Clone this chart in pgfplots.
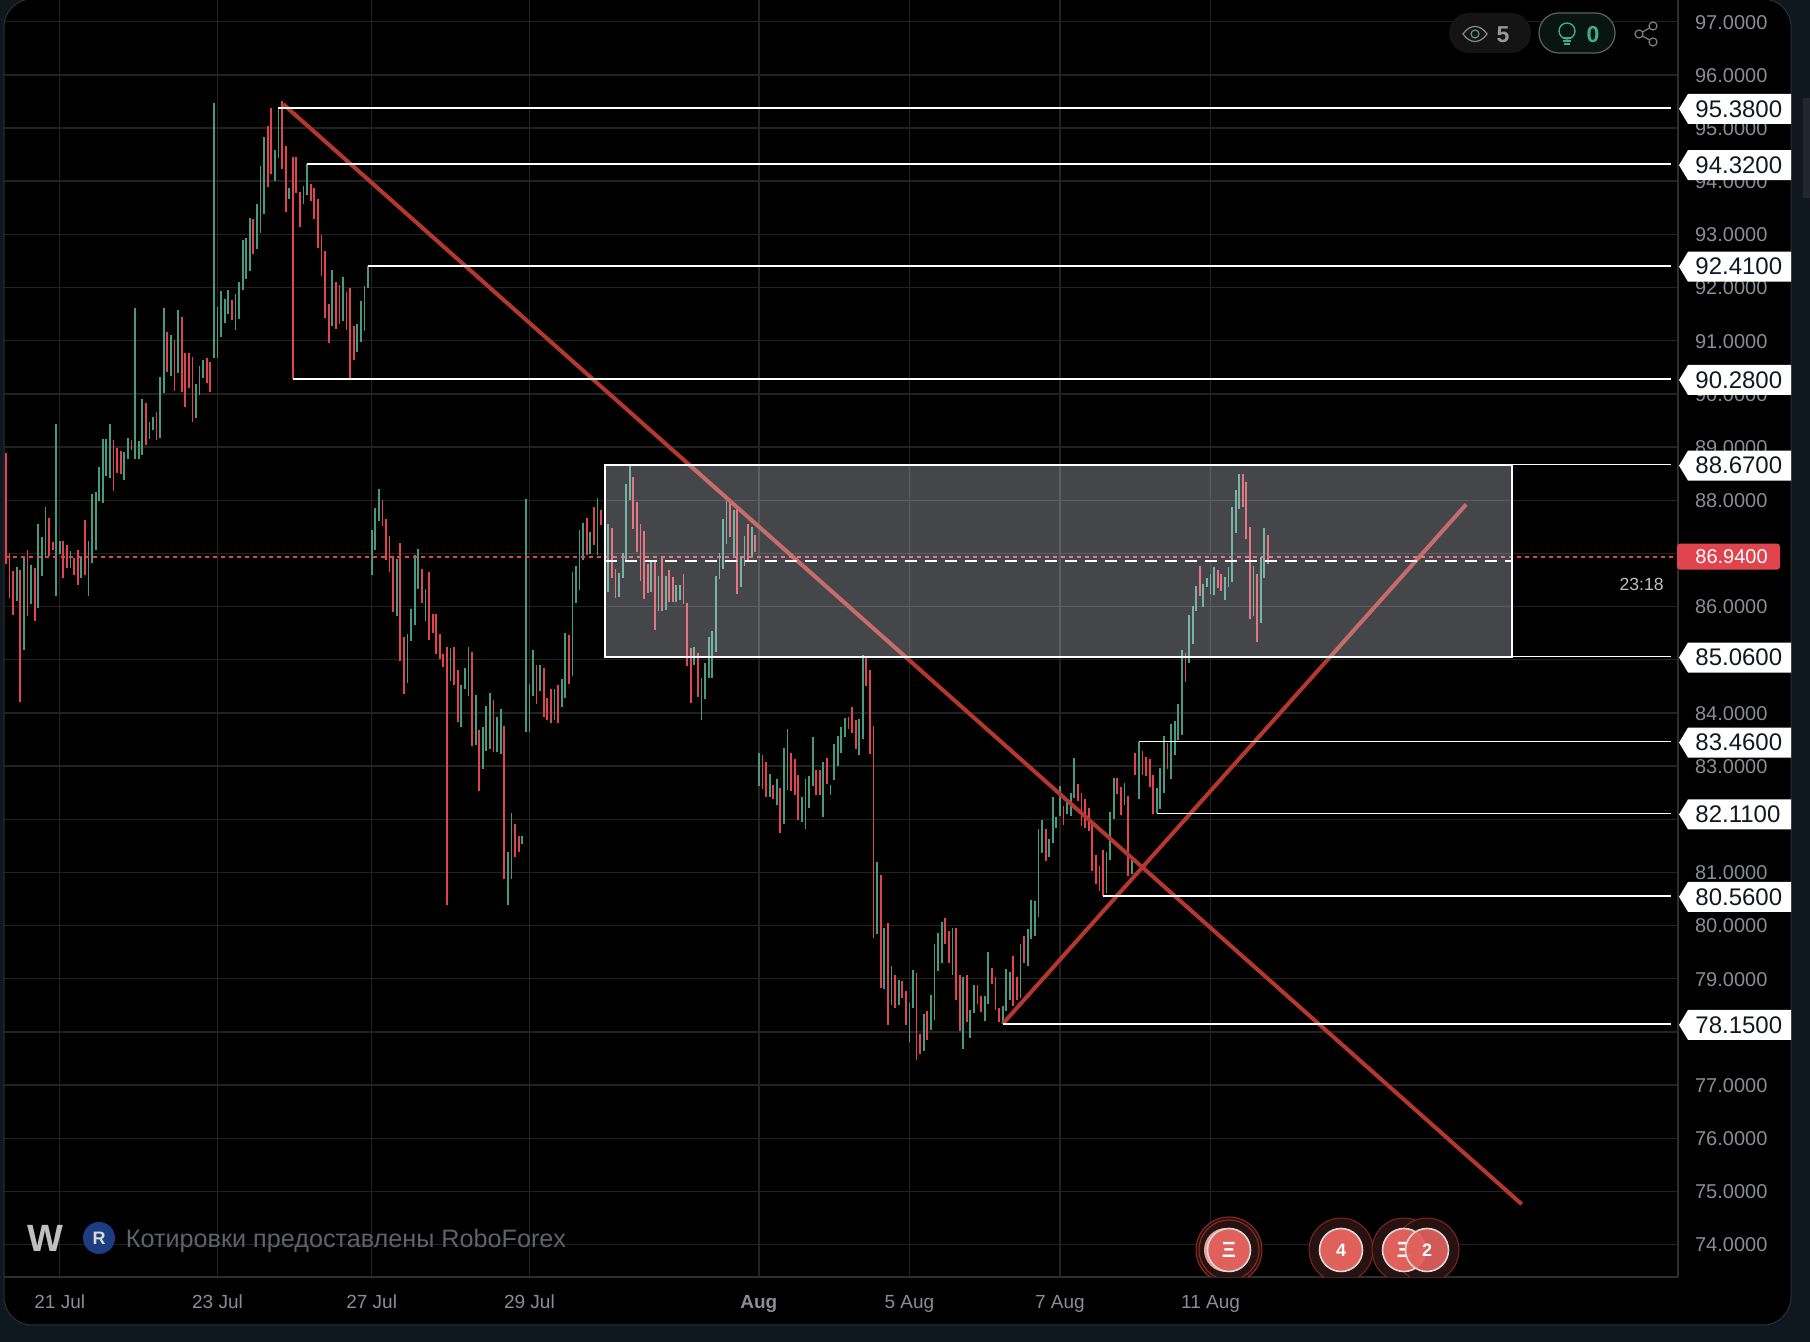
\documentclass[border=0pt]{standalone}
\usepackage{pgfplots}
\pgfplotsset{compat=1.18}
\usepackage{pgfplotstable}
\usepackage{fontspec}
\setmainfont{Liberation Sans}
\definecolor{pagebg}{HTML}{10181F}
\definecolor{framec}{HTML}{2A3138}
\definecolor{gridc}{HTML}{222222}
\definecolor{spine}{HTML}{2E2E2E}
\definecolor{upc}{HTML}{469A82}
\definecolor{downc}{HTML}{E0454F}
\definecolor{linec}{HTML}{B5372E}
\definecolor{tickc}{HTML}{8A8D92}
\definecolor{tagtext}{HTML}{131722}
\definecolor{wmark}{HTML}{5F6368}
\definecolor{bub}{HTML}{E0605C}
\definecolor{tealc}{HTML}{3FAE8E}
\definecolor{navyc}{HTML}{1C3D82}
\definecolor{zonec}{HTML}{F0F4FF}
\pgfplotstableread{
i l h
3 86.11 86.74
5 85.18 86.96
7 86.05 86.78
9 85.98 87.55
10 86.58 87.31
11 86.94 87.87
14 86.19 89.43
15 86.99 87.23
18 86.73 87.04
21 86.54 86.95
23 86.19 87.23
24 86.82 88.11
25 87.06 88.15
26 87.98 88.62
27 87.94 89.15
28 88.45 89.15
29 88.41 89.43
33 88.39 88.91
34 88.77 89.17
36 88.77 91.61
37 88.77 89.11
38 88.85 89.90
40 89.15 89.47
41 89.32 89.56
43 89.17 90.32
44 90.02 91.61
46 90.34 91.11
48 90.39 91.58
53 89.55 90.18
54 89.98 90.52
55 90.30 90.64
58 90.68 95.47
59 90.68 91.64
60 91.07 91.94
61 91.34 91.79
62 91.51 91.96
64 91.20 91.88
65 91.41 92.11
66 91.96 92.90
67 92.16 92.93
68 92.31 93.31
70 92.73 93.57
71 93.03 94.29
72 93.39 94.83
75 94.01 94.59
76 94.44 95.38
79 93.67 93.87
83 93.57 93.91
84 93.74 94.33
91 91.28 92.33
94 91.37 92.20
98 90.79 91.32
99 90.98 91.75
100 91.18 92.03
101 91.99 92.41
102 86.59 87.44
103 87.06 87.85
104 87.61 88.21
109 85.82 86.89
112 84.56 85.48
113 85.35 85.95
114 85.65 86.97
115 86.33 87.08
117 85.72 86.33
124 84.60 85.22
127 83.73 84.52
128 84.45 84.84
129 84.31 85.24
131 83.39 84.33
133 82.94 83.73
134 83.29 84.14
135 83.33 84.37
137 83.26 83.93
138 83.22 84.08
140 80.39 81.39
141 80.87 82.11
144 81.54 81.68
145 83.65 88.03
146 83.65 84.54
147 84.31 85.18
149 84.41 84.91
153 83.86 84.45
155 84.11 84.63
156 84.29 85.50
158 84.69 86.66
159 86.06 86.76
160 86.31 87.45
161 86.87 87.57
163 86.98 87.40
165 86.97 88.04
168 86.28 87.56
171 86.19 86.64
172 86.53 87.00
173 86.88 88.31
174 88.01 88.65
180 86.28 86.83
182 85.92 86.58
184 85.94 86.58
187 86.08 86.40
188 86.13 86.41
192 84.91 85.23
194 83.87 84.65
195 84.27 84.93
196 84.66 85.42
197 84.66 85.55
198 85.15 86.58
199 86.51 87.00
200 86.70 87.64
201 87.17 87.99
203 86.96 87.81
205 86.36 86.96
206 86.77 87.32
208 86.96 87.50
210 82.63 83.24
213 82.41 82.86
215 82.26 82.75
217 81.92 83.35
218 82.56 83.69
222 81.94 82.41
223 81.82 82.75
224 82.22 82.82
225 82.63 83.54
228 82.05 83.08
230 82.45 82.65
231 82.73 83.42
232 83.01 83.57
233 83.25 83.74
234 83.54 83.91
238 83.20 83.89
239 83.50 85.08
243 79.84 81.19
245 78.80 79.95
247 78.50 79.24
249 78.50 78.97
252 77.81 78.54
253 78.45 79.16
256 77.65 78.33
258 78.03 78.69
259 78.22 79.65
260 79.14 79.86
261 79.29 80.06
264 79.08 79.95
267 77.67 79.03
269 77.88 78.41
270 78.35 78.88
273 78.20 78.67
274 78.52 79.50
278 78.14 78.48
279 78.39 79.18
280 78.61 79.12
283 78.63 79.65
285 79.24 79.93
286 79.74 80.48
287 79.80 80.46
288 80.16 81.81
289 81.36 81.98
291 81.29 81.62
292 81.55 82.41
293 81.83 82.04
294 82.06 82.62
296 82.09 82.36
297 82.06 82.49
298 82.40 83.16
307 80.61 81.38
308 81.23 82.13
309 82.00 82.77
312 82.26 82.68
314 80.98 81.23
316 82.39 83.46
321 82.11 82.58
322 82.20 82.97
323 82.49 83.56
325 82.75 83.80
326 83.20 83.84
327 83.50 84.16
328 83.58 85.19
330 84.93 85.85
331 85.29 86.02
332 85.91 86.38
334 86.00 86.42
335 86.36 86.53
336 86.23 86.62
337 86.21 86.74
340 86.12 86.55
341 86.36 86.74
342 86.47 87.87
343 87.38 88.20
344 87.83 88.50
348 85.83 86.77
350 85.70 86.94
351 86.53 87.47
}\upbars
\pgfplotstableread{
i l h
0 86.80 88.88
1 86.17 87.00
2 85.84 86.67
4 84.20 86.69
6 85.83 87.06
8 85.72 86.72
12 86.95 87.66
13 87.06 87.21
16 86.54 87.23
17 86.73 87.16
19 86.59 86.91
20 86.41 87.06
22 86.59 87.63
30 88.17 89.13
31 88.51 88.98
32 88.49 88.92
35 88.94 89.13
39 89.04 89.83
42 89.13 89.66
45 90.41 91.16
47 90.05 91.01
49 90.03 91.45
50 89.75 90.77
51 90.11 90.77
52 89.47 90.69
56 90.20 90.67
57 90.03 90.60
63 91.39 91.77
69 92.63 93.29
73 93.89 95.04
74 94.14 95.38
77 94.23 95.50
78 93.42 94.66
80 90.28 94.46
81 93.78 94.46
82 93.14 93.80
85 93.63 93.95
86 93.29 93.87
87 92.75 93.67
88 92.22 92.99
89 91.43 92.69
90 90.96 91.69
92 91.22 92.11
93 91.32 92.05
95 91.20 91.92
96 90.28 91.99
97 90.64 91.28
105 87.51 88.00
106 86.87 87.64
107 86.66 87.32
108 85.89 86.95
110 84.97 87.19
111 84.35 85.42
116 86.06 86.70
118 85.37 86.65
119 85.50 85.86
120 85.10 85.87
121 85.01 85.48
122 84.86 85.10
123 80.39 85.24
125 84.52 85.24
126 83.82 84.80
130 83.37 85.14
132 82.54 83.67
136 83.26 84.25
139 80.87 83.76
142 81.30 81.92
143 81.39 81.68
148 84.16 84.90
150 83.92 84.84
151 83.86 84.29
152 83.82 84.45
154 83.81 84.52
157 84.54 85.46
162 86.97 87.66
164 87.15 87.87
166 87.53 87.81
169 86.53 87.47
170 86.17 86.70
175 87.45 88.43
176 87.03 87.97
177 86.49 87.56
178 86.15 87.43
179 86.26 86.81
181 85.55 86.83
183 85.92 86.92
185 86.08 86.68
186 86.08 86.55
189 86.04 86.62
190 84.89 86.06
191 84.19 85.23
193 84.29 85.12
202 87.30 87.94
204 86.23 87.84
207 86.87 87.56
209 87.02 87.34
211 82.56 83.20
212 82.41 83.07
214 82.39 82.65
216 81.75 82.58
219 82.54 83.25
220 82.46 83.14
221 81.99 82.84
226 82.45 82.92
227 82.46 82.93
229 82.67 83.16
235 83.69 83.93
236 83.63 84.12
237 83.33 83.86
240 84.50 85.04
241 83.23 84.80
242 79.77 83.76
244 78.82 80.95
246 78.13 80.04
248 78.46 79.08
250 78.63 78.95
251 78.14 78.78
254 77.47 79.10
255 77.58 77.97
257 77.84 78.39
262 79.65 80.14
263 79.29 79.89
265 78.61 79.95
266 78.01 79.07
268 78.18 79.08
271 78.52 78.88
272 78.37 78.67
275 78.90 79.20
276 78.41 79.03
277 78.18 78.46
281 78.48 79.42
282 78.60 79.03
284 79.29 79.80
290 81.21 81.81
295 81.89 82.24
299 82.34 82.66
300 81.87 82.49
301 81.83 82.39
302 81.78 82.21
303 81.03 81.91
304 80.78 81.32
305 80.66 81.13
306 80.55 81.42
310 82.47 82.77
311 82.09 82.60
313 80.93 82.43
315 82.84 83.24
317 82.84 83.28
318 82.82 83.18
319 82.60 83.14
320 82.09 82.84
324 82.94 83.43
329 84.59 85.12
333 86.19 86.76
338 86.34 86.68
339 86.30 86.62
345 87.88 88.50
346 87.28 88.35
347 85.76 87.49
349 85.33 86.62
352 86.81 87.34
}\downbars
\newcommand\leveltag[2]{%
  \fill[white] (axis cs:466.4,#1) ++(0.5pt,-0.5pt) -- ++(4.5pt,7.5pt) -- ++(51.5pt,0pt) -- ++(0pt,-15pt) -- ++(-51.5pt,0pt) -- cycle;
  \node[anchor=west,inner sep=0pt,text=tagtext,font=\fontsize{12}{14}\selectfont] at ([xshift=8.5pt,yshift=-0.5pt]axis cs:466.4,#1) {#2};
}
\pgfplotsset{
  hlbars/.style={draw=none,no marks,
    error bars/.cd,y dir=both,y explicit,error mark=none,
    error bar style={line width=0.9pt,color=#1,solid}},
  lvl/.style={white,line width=0.85pt},
}
\begin{document}
\begin{tikzpicture}
\path[use as bounding box] (0pt,0pt) rectangle (905pt,671pt);
\fill[pagebg] (0pt,0pt) rectangle (905pt,671pt);
\begin{scope}[shift={(0pt,671pt)},x=0.5pt,y=-0.5pt]
  \fill[black,rounded corners=14pt,draw=framec,line width=0.5pt] (4,-1) rectangle (1791,1325);
  \fill[fill=framec!60!pagebg] (1803,98) rectangle (1810,198);
\end{scope}
\begin{axis}[
  at={(2pt,32.5pt)},anchor=south west,
  scale only axis,width=837pt,height=638.5pt,
  xmin=-0.56,xmax=466.4,ymin=73.391,ymax=97.408,
  clip=false,
  axis x line*=bottom,axis y line*=right,
  axis line style={color=spine,line width=0.7pt,-},
  major tick length=0pt,
  grid=major,
  major grid style={color=gridc,line width=0.7pt},
  xtick={15,59,102,146,210,252,294,336},
  xticklabels={21 Jul,23 Jul,27 Jul,29 Jul,\textbf{Aug},5 Aug,7 Aug,11 Aug},
  ytick={74,75,...,97},
  /pgf/number format/.cd,fixed,fixed zerofill,precision=4,assume math mode=true,1000 sep={},
  /pgfplots/yticklabel style={anchor=west,xshift=5pt,yshift=-0.25pt,text=tickc,font=\fontsize{10}{12}\selectfont},
  /pgfplots/xticklabel style={yshift=-5.5pt,text=tickc,font=\fontsize{9.5}{11}\selectfont},
]
\addplot[hlbars=upc] table[x=i,y expr=(\thisrow{l}+\thisrow{h})/2,y error expr=(\thisrow{h}-\thisrow{l})/2] {\upbars};
\addplot[hlbars=downc] table[x=i,y expr=(\thisrow{l}+\thisrow{h})/2,y error expr=(\thisrow{h}-\thisrow{l})/2] {\downbars};
% trend lines
\addplot[linec,line width=2pt] coordinates {(77.3,95.45)(422.8,74.76)};
\addplot[linec,line width=2pt] coordinates {(278,78.15)(407.3,87.92)};
% last price
\addplot[downc,line width=1.05pt,dash pattern=on 2pt off 2pt] coordinates {(-0.4,86.94)(466.4,86.94)};
% zone
\addplot[fill=zonec,fill opacity=0.29,draw=white,draw opacity=1,line width=1pt] coordinates {(167,85.06)(420,85.06)(420,88.67)(167,88.67)} -- cycle;
\addplot[white,line width=1pt,dash pattern=on 6pt off 4pt] coordinates {(167,86.865)(420,86.865)};
% levels
\addplot[lvl] coordinates {(76,95.38)(464.4,95.38)};
\addplot[lvl] coordinates {(84,94.32)(464.4,94.32)};
\addplot[lvl] coordinates {(101,92.41)(464.4,92.41)};
\addplot[lvl] coordinates {(80,90.28)(464.4,90.28)};
\addplot[lvl] coordinates {(167,88.67)(464.4,88.67)};
\addplot[lvl] coordinates {(167,85.06)(464.4,85.06)};
\addplot[lvl] coordinates {(316,83.46)(464.4,83.46)};
\addplot[lvl] coordinates {(321,82.11)(464.4,82.11)};
\addplot[lvl] coordinates {(306,80.56)(464.4,80.56)};
\addplot[lvl] coordinates {(278,78.15)(464.4,78.15)};
\leveltag{95.38}{95.3800}
\leveltag{94.32}{94.3200}
\leveltag{92.41}{92.4100}
\leveltag{90.28}{90.2800}
\leveltag{88.67}{88.6700}
\leveltag{85.06}{85.0600}
\leveltag{83.46}{83.4600}
\leveltag{82.11}{82.1100}
\leveltag{80.56}{80.5600}
\leveltag{78.15}{78.1500}
% last price tag
\fill[downc,rounded corners=1.5pt] (axis cs:466.4,86.94) ++(-0.5pt,-6.5pt) -- ++(51.5pt,0pt) -- ++(0pt,13pt) -- ++(-51.5pt,0pt) -- cycle;
\node[anchor=west,inner sep=0pt,text=white,font=\fontsize{10}{12}\selectfont] at ([xshift=8.5pt]axis cs:466.4,86.94) {86.9400};
\node[anchor=east,inner sep=0pt,text=white!75!black,font=\fontsize{8.8}{10}\selectfont] at ([xshift=-7pt]axis cs:466.4,86.42) {23:18};
\end{axis}
\begin{scope}[shift={(0pt,671pt)},x=0.5pt,y=-0.5pt]
  % top widgets
  \fill[black!92!white,rounded corners=9.9pt] (1449,13) rectangle (1531,53);
  \draw[draw=white!55!black,line width=0.6pt] (1463,34) .. controls (1470,24) and (1480,24) .. (1487,34) .. controls (1480,44) and (1470,44) .. (1463,34) -- cycle;
  \draw[draw=tealc!60!gray,line width=0.6pt] (1475,34) circle (4);
  \node[text=white!60!black,font=\fontsize{11.5}{13}\selectfont\bfseries,inner sep=0pt] at (1503,34.5) {5};
  \fill[fill=tealc!12!black,draw=white!38!black,line width=0.6pt,rounded corners=9.9pt] (1539,13) rectangle (1615,53);
  \draw[draw=tealc,line width=0.7pt] (1567,31) circle (8);
  \draw[draw=tealc,line width=0.7pt] (1563,38) -- (1571,38) (1563,41) -- (1571,41) (1564,44) -- (1570,44);
  \node[text=tealc,font=\fontsize{11.5}{13}\selectfont\bfseries,inner sep=0pt] at (1593,34.5) {0};
  \draw[draw=white!50!black,line width=0.6pt] (1639,34) -- (1653,26) (1639,34) -- (1653,42);
  \fill[black,draw=white!50!black,line width=0.6pt] (1639,34) circle (4);
  \fill[black,draw=white!50!black,line width=0.6pt] (1653,26) circle (4);
  \fill[black,draw=white!50!black,line width=0.6pt] (1653,42) circle (4);
  % watermark
  \node[text=white!75!black,font=\fontsize{19}{21}\selectfont\bfseries,inner sep=0pt] at (45,1238) {W};
  \fill[fill=navyc] (99,1238) circle (16);
  \node[text=white!85!black,font=\fontsize{9}{11}\selectfont\bfseries,inner sep=0pt] at (99,1238) {R};
  \node[anchor=west,text=wmark,font=\fontsize{12.6}{14}\selectfont,inner sep=0pt] at (125.5,1241) {Котировки предоставлены RoboForex};
  % event bubbles
  \begin{scope}
    \clip (1180,1190) rectangle (1480,1277);
    \foreach \r in {33,30}{\fill[fill=bub!18!black,draw=linec!80!black,line width=0.5pt] (1229,1250) circle (\r);}
    \fill[fill=bub!18!black,draw=linec!70!black,line width=0.5pt] (1341,1250) circle (32);
    \fill[fill=bub!18!black,draw=linec!70!black,line width=0.5pt] (1404,1250) circle (32);
    \fill[fill=bub!18!black,draw=linec!70!black,line width=0.5pt] (1427,1250) circle (32);
    \fill[fill=bub!60!white] (1226,1250) circle (22);
    \fill[fill=bub,draw=white!70!gray,line width=0.8pt] (1229,1250) circle (21.5);
    \fill[fill=bub,draw=white!70!gray,line width=0.8pt] (1341,1250) circle (21.5);
    \fill[fill=bub,draw=white!70!gray,line width=0.8pt] (1404,1250) circle (21.5);
    \node[text=white,font=\fontsize{11}{13}\selectfont\bfseries,inner sep=0pt] at (1229,1250) {Ξ};
    \node[text=white,font=\fontsize{9}{11}\selectfont\bfseries,inner sep=0pt] at (1341,1250) {4};
    \node[text=white,font=\fontsize{11}{13}\selectfont\bfseries,inner sep=0pt] at (1404,1250) {Ξ};
    \fill[fill=bub,fill opacity=0.92,draw=white!70!gray,line width=0.8pt] (1427,1250) circle (21.5);
    \node[text=white,font=\fontsize{9}{11}\selectfont\bfseries,inner sep=0pt] at (1427,1250) {2};
  \end{scope}
\end{scope}
\end{tikzpicture}
\end{document}
